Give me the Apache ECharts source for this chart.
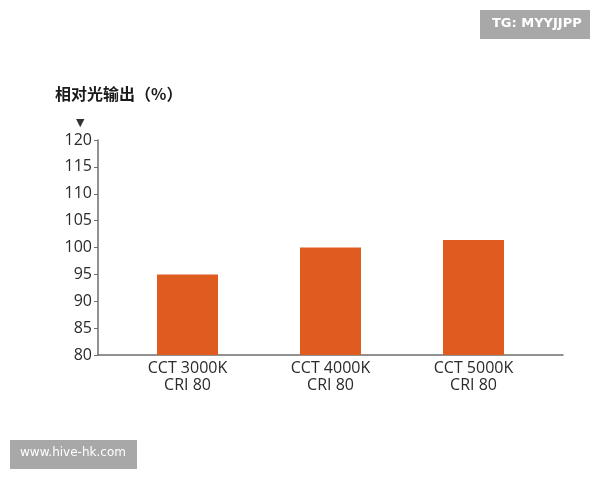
<!DOCTYPE html>
<html>
<head>
<meta charset="utf-8">
<script src="https://cdn.jsdelivr.net/npm/echarts@6/dist/echarts.min.js"></script>
<style>
  html, body { margin: 0; padding: 0; background: #fff; }
  #chart { width: 600px; height: 480px; }
</style>
</head>
<body>
<div id="chart"></div>
<script>
  const categories = ["CCT 3000K\nCRI 80", "CCT 4000K\nCRI 80", "CCT 5000K\nCRI 80"];
  const lightOutput = [95, 100, 101.4];
  const yMin = 80;
  const yMax = 120;
  const yStep = 5;

  var chartDom = document.getElementById("chart");
  var myChart = echarts.init(chartDom);

  var axisColor = "#6e6e6e";
  var textFont = "'Open Sans', 'Noto Sans', sans-serif";

  var option = {
    backgroundColor: "#fff",
    animation: false,
    grid: [
      // full frame: y axis and the long x axis line
      { left: 98, right: 37, top: 140, bottom: 125 },
      // the bars sit in a slightly narrower band
      { left: 116, right: 55, top: 140, bottom: 125 },
    ],
    xAxis: [
      {
        gridIndex: 0,
        type: "category",
        data: categories,
        axisLine: { lineStyle: { color: axisColor, width: 1.5 } },
        axisTick: { show: false },
        axisLabel: { show: false },
      },
      {
        gridIndex: 1,
        type: "category",
        data: categories,
        axisLine: { show: false },
        axisTick: { show: false },
        axisLabel: {
          color: "#2b2b2b",
          fontSize: 16,
          lineHeight: 17,
          margin: 5,
          fontFamily: textFont,
        },
      },
    ],
    yAxis: [
      {
        gridIndex: 0,
        type: "value",
        min: yMin,
        max: yMax,
        interval: yStep,
        axisLine: { show: true, lineStyle: { color: axisColor, width: 1.5 } },
        axisTick: { show: true, inside: false, length: 4, lineStyle: { color: axisColor } },
        splitLine: { show: false },
        axisLabel: {
          color: "#2b2b2b",
          fontSize: 16,
          margin: 6,
          fontFamily: textFont,
        },
      },
      {
        gridIndex: 1,
        type: "value",
        min: yMin,
        max: yMax,
        interval: yStep,
        show: false,
      },
    ],
    series: [
      {
        type: "bar",
        xAxisIndex: 1,
        yAxisIndex: 1,
        data: lightOutput,
        barWidth: 61,
        itemStyle: { color: "#e05b20" },
      },
    ],
    graphic: [
      {
        type: "text",
        left: 55,
        top: 86,
        style: {
          text: "相对光输出（%）",
          fontSize: 16,
          fontWeight: "bold",
          fill: "#1a1a1a",
          fontFamily: "'Noto Sans CJK SC', sans-serif",
        },
      },
      {
        type: "text",
        left: 76,
        top: 118,
        style: { text: "▼", fontSize: 11, fill: "#333", fontFamily: "'DejaVu Sans', sans-serif" },
      },
      {
        type: "rect",
        shape: { x: 480, y: 10, width: 110, height: 29 },
        style: { fill: "#a8a8a8" },
      },
      {
        type: "text",
        left: 492,
        top: 17,
        style: {
          text: "TG: MYYJJPP",
          fontSize: 13,
          fontWeight: "bold",
          fill: "#fff",
          fontFamily: "'DejaVu Sans', sans-serif",
        },
      },
      {
        type: "rect",
        shape: { x: 10, y: 440, width: 127, height: 29 },
        style: { fill: "#a8a8a8" },
      },
      {
        type: "text",
        left: 20,
        top: 447,
        style: {
          text: "www.hive-hk.com",
          fontSize: 12,
          fill: "#fff",
          fontFamily: "'DejaVu Sans', sans-serif",
        },
      },
    ],
  };

  myChart.setOption(option);
</script>
</body>
</html>
